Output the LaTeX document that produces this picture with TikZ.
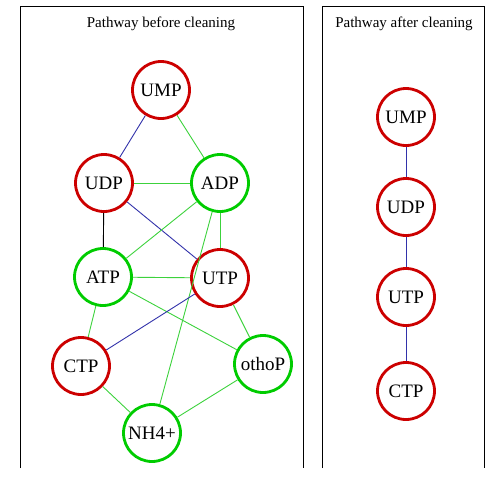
\documentclass[tikz,border=0pt]{standalone}
\usepackage{fontspec}
\setmainfont{Liberation Serif}
\definecolor{nred}{RGB}{204,0,0}
\definecolor{ngreen}{RGB}{0,204,0}
\definecolor{egreen}{RGB}{60,210,60}
\definecolor{eblue}{RGB}{50,50,170}
\tikzset{
  met/.style={circle, draw, line width=2.8pt, minimum size=57pt, inner sep=0pt, font=\fontsize{19}{19}\selectfont, fill=white},
  rmet/.style={met, draw=nred},
  gmet/.style={met, draw=ngreen},
  ge/.style={egreen, line width=0.9pt},
  be/.style={eblue, line width=0.9pt},
  ke/.style={black, line width=0.9pt},
  frame/.style={black, line width=0.9pt},
  ttl/.style={font=\fontsize{15}{15}\selectfont}
}
\begin{document}
\begin{tikzpicture}[x=1pt,y=-1pt]
\useasboundingbox (0,0) rectangle (485,477);
\draw[frame] (20,468) -- (20,6) -- (303,6) -- (303,468);
\draw[frame] (322,468) -- (322,6) -- (484,6) -- (484,468);
\node[ttl] (t1) at (161,24) {Pathway before cleaning};
\node[ttl] (t2) at (404,24) {Pathway after cleaning};
% left graph
\node[rmet] (ump) at (161,90) {UMP};
\node[rmet] (udp) at (104,183) {UDP};
\node[gmet] (adp) at (220,183) {ADP};
\node[gmet] (atp) at (103,277) {ATP};
\node[rmet] (utp) at (220,278) {UTP};
\node[rmet] (ctp) at (81,366) {CTP};
\node[gmet] (otho) at (263,364) {othoP};
\node[gmet] (nh4) at (152,433) {NH4+};
\draw[be] (ump) -- (udp);
\draw[ge] (ump) -- (adp);
\draw[ge] (udp) -- (adp);
\draw[ke] (udp) -- (atp);
\draw[be] (udp) -- (utp);
\draw[ge] (adp) -- (atp);
\draw[ge] (adp) -- (utp);
\draw[ge] (adp) -- (nh4);
\draw[ge] (atp) -- (utp);
\draw[ge] (atp) -- (ctp);
\draw[ge] (atp) -- (otho);
\draw[be] (utp) -- (ctp);
\draw[ge] (utp) -- (otho);
\draw[ge] (ctp) -- (nh4);
\draw[ge] (otho) -- (nh4);
% right graph
\node[rmet] (rump) at (406,117) {UMP};
\node[rmet] (rudp) at (406,207) {UDP};
\node[rmet] (rutp) at (406,297) {UTP};
\node[rmet] (rctp) at (406,391) {CTP};
\draw[be] (rump) -- (rudp);
\draw[be] (rudp) -- (rutp);
\draw[be] (rutp) -- (rctp);
\end{tikzpicture}
\end{document}
